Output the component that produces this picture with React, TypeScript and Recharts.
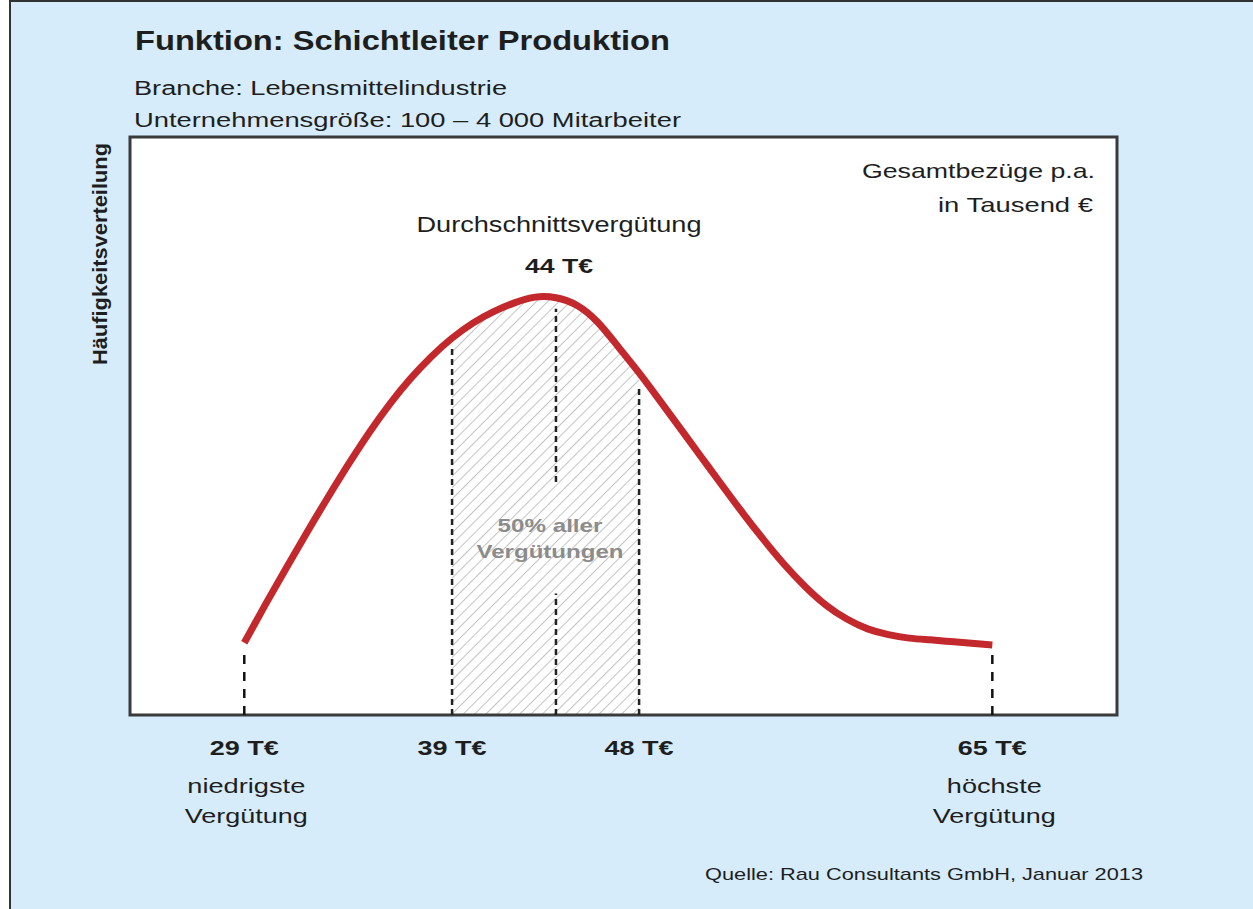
import React from "react";
import {
  ComposedChart,
  Line,
  Area,
  XAxis,
  YAxis,
  ReferenceLine,
  ReferenceArea,
  CartesianGrid,
} from "recharts";

// ---------- data ----------
const salary = [29, 30, 31, 32, 33, 34, 35, 36, 37, 38, 39, 40, 41, 42, 43, 44, 45, 46, 47, 48, 49, 50, 51, 52, 53, 54, 55, 56, 57, 58, 59, 60, 61, 62, 63, 64, 65];
const frequency = [12.5, 19.0, 25.3, 31.5, 37.5, 43.3, 48.8, 53.8, 58.2, 62.0, 65.2, 67.8, 69.8, 71.3, 72.3, 72.2, 70.9, 68.0, 63.7, 59.2, 54.4, 49.5, 44.6, 39.7, 34.9, 30.3, 26.0, 22.2, 19.0, 16.6, 14.9, 13.9, 13.3, 13.0, 12.7, 12.4, 12.1];

const tickValues = [29, 39, 48, 65];
const tickLabels = ["29 T€", "39 T€", "48 T€", "65 T€"];
const tickNotes: string[][] = [["niedrigste", "Vergütung"], [], [], ["höchste", "Vergütung"]];

const minSalary = 29;
const lowerQuartile = 39;
const averageSalary = 44;
const upperQuartile = 48;
const maxSalary = 65;

const xDomain: [number, number] = [23.5, 71];
const yDomain: [number, number] = [0, 100];

const chartData = salary.map((s, i) => ({
  salary: s,
  freq: frequency[i],
  band: s >= lowerQuartile && s <= upperQuartile ? frequency[i] : null,
}));

const freqAt = (x: number) => frequency[salary.indexOf(x)];

// ---------- styles ----------
const W = 1253;
const H = 909;
const BG = "#d6ecfa";
const INK = "#1e1e1e";
const RED = "#c3282c";
const FONT = "'Liberation Sans', Arial, Helvetica, sans-serif";

const Tick = (props: any) => {
  const { x, y, payload } = props;
  const i = tickValues.indexOf(payload.value);
  if (i < 0) return null;
  return (
    <g>
      <text x={x} y={y + 40} textAnchor="middle" fontFamily={FONT} fontWeight="bold" fontSize={21} fill={INK} textLength={69} lengthAdjust="spacingAndGlyphs">
        {tickLabels[i]}
      </text>
      {tickNotes[i].map((t, k) => (
        <text key={k} x={x + 2} y={y + 78 + k * 30} textAnchor="middle" fontFamily={FONT} fontSize={21} fill={INK} textLength={t === "Vergütung" ? 123 : t === "niedrigste" ? 118 : 95} lengthAdjust="spacingAndGlyphs">
          {t}
        </text>
      ))}
    </g>
  );
};

const T = (p: any) => (
  <text fontFamily={FONT} fill={INK} lengthAdjust="spacingAndGlyphs" {...p} />
);

export default function App() {
  return (
    <div style={{ position: "absolute", left: 0, top: 0, width: W, height: H, background: "#ffffff", overflow: "hidden" }}>
      <div
        style={{
          position: "absolute",
          left: 9,
          top: 0,
          width: W - 9,
          height: H,
          background: BG,
          borderLeft: "2px solid #333",
          borderTop: "2px solid #333",
          boxSizing: "border-box",
        }}
      />
      <svg width={0} height={0} style={{ position: "absolute" }}>
        <defs>
          <pattern id="hatch" patternUnits="userSpaceOnUse" width={8} height={8} patternTransform="rotate(45)">
            <rect x={0} y={0} width={8} height={8} fill="#ffffff" />
            <line x1={0} y1={0} x2={0} y2={8} stroke="#c4c4c4" strokeWidth={2} />
          </pattern>
        </defs>
      </svg>
      <div style={{ position: "absolute", left: 0, top: 0 }}>
        <ComposedChart
          width={W}
          height={H}
          data={chartData}
          margin={{ top: 137, right: 136, bottom: 74, left: 130 }}
        >
          <CartesianGrid fill="#ffffff" horizontal={false} vertical={false} />
          <XAxis
            dataKey="salary"
            type="number"
            domain={xDomain}
            ticks={tickValues}
            interval={0}
            tick={<Tick />}
            axisLine={false}
            tickLine={false}
            tickSize={0}
            tickMargin={0}
            height={120}
            allowDataOverflow
          />
          <YAxis type="number" domain={yDomain} hide allowDataOverflow />
          <Area
            dataKey="band"
            type="natural"
            fill="url(#hatch)"
            fillOpacity={1}
            stroke="none"
            baseValue={0}
            connectNulls={false}
            isAnimationActive={false}
            dot={false}
            activeDot={false}
          />
          <ReferenceLine segment={[{ x: minSalary, y: 0 }, { x: minSalary, y: freqAt(minSalary) - 1 }]} stroke="#111" strokeWidth={2.5} strokeDasharray="9 8" />
          <ReferenceLine segment={[{ x: maxSalary, y: 0 }, { x: maxSalary, y: freqAt(maxSalary) - 1 }]} stroke="#111" strokeWidth={2.5} strokeDasharray="9 8" />
          <ReferenceLine segment={[{ x: lowerQuartile, y: 0 }, { x: lowerQuartile, y: freqAt(lowerQuartile) - 1.8 }]} stroke="#222" strokeWidth={2.5} strokeDasharray="6 4" />
          <ReferenceLine segment={[{ x: upperQuartile, y: 0 }, { x: upperQuartile, y: freqAt(upperQuartile) - 2.4 }]} stroke="#222" strokeWidth={2.5} strokeDasharray="6 4" />
          <ReferenceLine segment={[{ x: averageSalary, y: 0 }, { x: averageSalary, y: 21 }]} stroke="#222" strokeWidth={2.5} strokeDasharray="6 4" />
          <ReferenceLine segment={[{ x: averageSalary, y: 40.3 }, { x: averageSalary, y: 70.3 }]} stroke="#222" strokeWidth={2.5} strokeDasharray="6 4" />
          <Line
            dataKey="freq"
            type="natural"
            stroke={RED}
            strokeWidth={7}
            dot={false}
            activeDot={false}
            isAnimationActive={false}
          />
          <ReferenceArea x1={xDomain[0]} x2={xDomain[1]} y1={yDomain[0]} y2={yDomain[1]} fill="none" stroke="#3a3a3a" strokeWidth={3} ifOverflow="visible" />
        </ComposedChart>
      </div>
      <svg width={W} height={H} style={{ position: "absolute", left: 0, top: 0, pointerEvents: "none" }}>
        <T x={135} y={50} fontSize={28} fontWeight="bold" textLength={535}>Funktion: Schichtleiter Produktion</T>
        <T x={134} y={95} fontSize={20} textLength={373}>Branche: Lebensmittelindustrie</T>
        <T x={134} y={127} fontSize={20} textLength={547}>Unternehmensgröße: 100 – 4 000 Mitarbeiter</T>
        <T x={107} y={254} fontSize={21} fontWeight="bold" textAnchor="middle" textLength={222} transform="rotate(-90 107 254)">Häufigkeitsverteilung</T>
        <T x={1095} y={178} fontSize={21} textAnchor="end" textLength={233}>Gesamtbezüge p.a.</T>
        <T x={1093} y={212} fontSize={21} textAnchor="end" textLength={155}>in Tausend €</T>
        <T x={559} y={232} fontSize={22} textAnchor="middle" textLength={285}>Durchschnittsvergütung</T>
        <T x={559} y={273} fontSize={21} fontWeight="bold" textAnchor="middle" textLength={68}>44 T€</T>
        <T x={550} y={532} fontSize={19} fontWeight="bold" fill="#8c8c8c" textAnchor="middle" textLength={105}>50% aller</T>
        <T x={550} y={558} fontSize={19} fontWeight="bold" fill="#8c8c8c" textAnchor="middle" textLength={147}>Vergütungen</T>
        <T x={1143} y={880} fontSize={17} textAnchor="end" textLength={438}>Quelle: Rau Consultants GmbH, Januar 2013</T>
      </svg>
    </div>
  );
}
